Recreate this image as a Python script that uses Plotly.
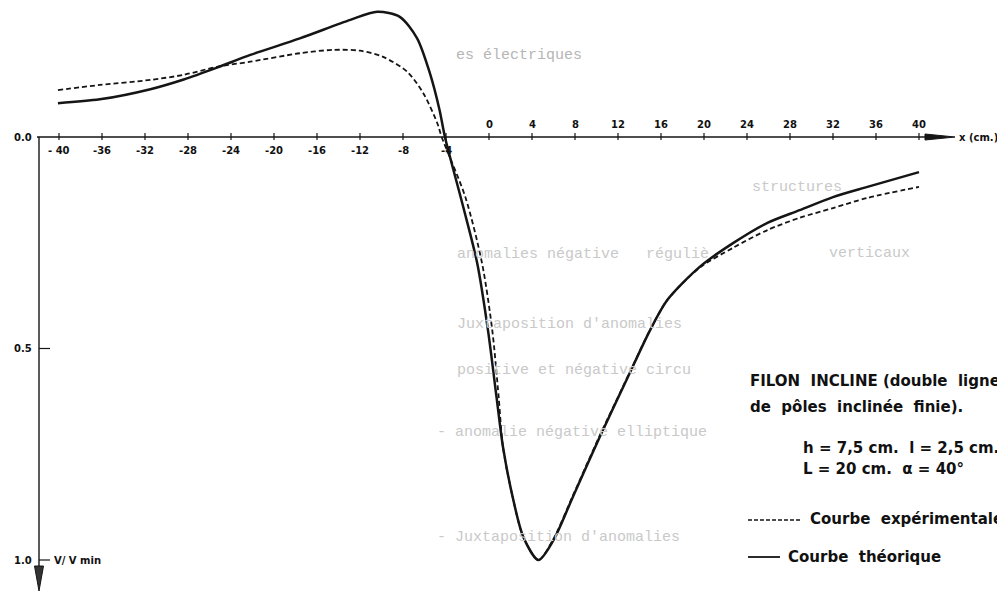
import plotly.graph_objects as go

# ---------------- data ----------------
theo_x = [-40.1, -36.2, -31.5, -28.4, -25.3, -22.2, -17.6, -12.9, -10.4, -8.3, -6.7, -5.5, -4.6, -4.1,
          -2.4, -1.1, -0.1, 0.7, 1.3, 2.2, 3.2, 4.6, 6.0, 7.8, 10.3, 12.8, 15.0, 16.6, 19.6, 22.7,
          25.9, 28.9, 32.0, 35.2, 40.0]
theo_y = [-0.080, -0.089, -0.113, -0.136, -0.164, -0.194, -0.233, -0.277, -0.296, -0.284, -0.234, -0.151,
          -0.064, 0.0, 0.165, 0.298, 0.456, 0.615, 0.733, 0.851, 0.946, 1.0, 0.953, 0.851, 0.709, 0.574,
          0.456, 0.385, 0.307, 0.251, 0.203, 0.173, 0.142, 0.118, 0.083]

exp_x = [-40.1, -36.2, -31.5, -28.4, -25.3, -22.2, -17.6, -14.5, -12.0, -9.9, -7.6, -6.1, -4.8, -4.4,
         -2.2, -0.65, 0.3, 0.9, 1.3, 2.2, 3.2, 4.6, 6.0, 7.8, 10.3, 12.8, 15.0, 16.6, 19.6, 22.7,
         25.9, 28.9, 32.0, 35.2, 40.0]
exp_y = [-0.111, -0.123, -0.135, -0.147, -0.166, -0.178, -0.198, -0.206, -0.204, -0.190, -0.154, -0.103,
         -0.032, 0.0, 0.142, 0.298, 0.456, 0.615, 0.733, 0.851, 0.946, 1.0, 0.950, 0.848, 0.706, 0.572,
         0.455, 0.385, 0.309, 0.262, 0.220, 0.191, 0.168, 0.144, 0.118]

x_ticks = [-40, -36, -32, -28, -24, -20, -16, -12, -8, -4, 0, 4, 8, 12, 16, 20, 24, 28, 32, 36, 40]
x_tick_labels = ["- 40", "-36", "-32", "-28", "-24", "-20", "-16", "-12", "-8", "-4",
                 "0", "4", "8", "12", "16", "20", "24", "28", "32", "36", "40"]
y_ticks = [0.0, 0.5, 1.0]
y_tick_labels = ["0.0", "0.5", "1.0"]

# ---------------- geometry ----------------
PAGE_W, PAGE_H = 1005, 591
OFF = 8                      # page body margin of the html page
W, H = PAGE_W - OFF, PAGE_H - OFF
X0PX, XS = 489.0 - OFF, 10.75     # figure pixel of x=0, pixels per cm
Y0PX, YS = 137.0 - OFF, 423.0     # figure pixel of V=0, pixels per unit
def px2x(p): return (p - OFF - X0PX) / XS        # p given in page pixels
def px2y(p): return (p - OFF - Y0PX) / YS
def dx(p): return p / XS
def dy(p): return p / YS

YAX = px2x(39)              # position of the vertical axis (in cm)
FONT_AX = dict(family="DejaVu Sans", size=10, color="#111")
FONT_LG = dict(family="DejaVu Sans", size=15, color="#111")
INK = "#151515"

fig = go.Figure()
fig.add_trace(go.Scatter(x=exp_x, y=exp_y, mode="lines", name="Courbe expérimentale",
                         line=dict(color=INK, width=1.8, dash="5px,3px", shape="spline", smoothing=0.8),
                         showlegend=False))
fig.add_trace(go.Scatter(x=theo_x, y=theo_y, mode="lines", name="Courbe théorique",
                         line=dict(color=INK, width=2.5, shape="spline", smoothing=0.8),
                         showlegend=False))

shapes = []
# horizontal axis
shapes.append(dict(type="line", xref="x", yref="y", x0=px2x(37), x1=px2x(945), y0=0, y1=0,
                   line=dict(color=INK, width=1.3)))
tip = px2x(955)
shapes.append(dict(type="path", xref="x", yref="y",
                   path=f"M {px2x(925)},{-dy(3)} L {tip},0 L {px2x(925)},{dy(3)} Z",
                   fillcolor=INK, line=dict(color=INK, width=1)))
# vertical axis
shapes.append(dict(type="line", xref="x", yref="y", x0=YAX, x1=YAX, y0=0, y1=px2y(575),
                   line=dict(color=INK, width=1.4)))
shapes.append(dict(type="path", xref="x", yref="y",
                   path=f"M {YAX-dx(4.5)},{px2y(566)} L {YAX+dx(4.5)},{px2y(566)} L {YAX},{px2y(591)} Z",
                   fillcolor="#333", line=dict(color=INK, width=1)))
# ticks on the x axis
for t in x_ticks:
    shapes.append(dict(type="line", xref="x", yref="y", x0=t, x1=t, y0=-dy(4), y1=dy(3),
                       line=dict(color=INK, width=1.2)))
# ticks on the y axis
for v in y_ticks[1:]:
    shapes.append(dict(type="line", xref="x", yref="y", x0=YAX, x1=YAX + dx(11), y0=v, y1=v,
                       line=dict(color=INK, width=1.2)))

ann = []
for t, lab in zip(x_ticks, x_tick_labels):
    if t < 0:
        ann.append(dict(x=t, y=0, xref="x", yref="y", text=f"<b>{lab}</b>", showarrow=False,
                        yanchor="top", yshift=-6, font=FONT_AX))
    else:
        ann.append(dict(x=t, y=0, xref="x", yref="y", text=f"<b>{lab}</b>", showarrow=False,
                        yanchor="bottom", yshift=5, font=FONT_AX))
for v, lab in zip(y_ticks, y_tick_labels):
    ann.append(dict(x=YAX, y=v, xref="x", yref="y", text=f"<b>{lab}</b>", showarrow=False,
                    xanchor="right", xshift=-5, yanchor="middle", font=FONT_AX))
ann.append(dict(x=YAX, y=1.0, xref="x", yref="y", text="<b>V/ V min</b>", showarrow=False,
                xanchor="left", xshift=13, yanchor="middle", font=FONT_AX))
ann.append(dict(x=tip, y=0, xref="x", yref="y", text="<b>x (cm.)</b>", showarrow=False,
                xanchor="left", xshift=2, yanchor="middle", font=FONT_AX))

def ptxt(text, xpx, ypx, font, color=None):
    """xpx, ypx in page pixels"""
    f = dict(font)
    if color:
        f["color"] = color
    ann.append(dict(x=(xpx - OFF) / W, y=1 - (ypx - OFF) / H, xref="paper", yref="paper", text=text,
                    showarrow=False, xanchor="left", yanchor="middle", font=f))

def pline(x0, x1, ypx, **line):
    shapes.append(dict(type="line", xref="paper", yref="paper", x0=(x0 - OFF) / W, x1=(x1 - OFF) / W,
                       y0=1 - (ypx - OFF) / H, y1=1 - (ypx - OFF) / H, line=line))

# legend block
ptxt("<b>FILON  INCLINE (double  ligne</b>", 748, 381, FONT_LG)
ptxt("<b>de  pôles  inclinée  finie).</b>", 748, 407, FONT_LG)
ptxt("<b>h = 7,5 cm.  l = 2,5 cm.</b>", 801, 448, FONT_LG)
ptxt("<b>L = 20 cm.  α = 40°</b>", 801, 469, FONT_LG)
ptxt("<b>Courbe  expérimentale</b>", 808, 519, FONT_LG)
ptxt("<b>Courbe  théorique</b>", 786, 557, FONT_LG)
pline(748, 800, 520, color=INK, width=1.5, dash="4px,2px")
pline(748, 780, 557, color=INK, width=1.8)

# faint show-through text of the scanned page
GHOST = dict(family="Liberation Mono", size=15, color="#c9c9c9")
ptxt("es électriques", 454, 56, GHOST, "#b5b5b5")
ptxt("structures", 750, 187, GHOST)
ptxt("anomalies négative   réguliè", 455, 255, GHOST)
ptxt("verticaux", 827, 253, GHOST)
ptxt("Juxtaposition d'anomalies", 455, 324, GHOST)
ptxt("positive et négative circu", 455, 370, GHOST)
ptxt("- anomalie négative elliptique", 435, 432, GHOST)
ptxt("- Juxtaposition d'anomalies", 435, 537, GHOST)

fig.update_layout(
    width=W, height=H,
    margin=dict(l=0, r=0, t=0, b=0),
    paper_bgcolor="white", plot_bgcolor="white",
    xaxis=dict(range=[px2x(OFF), px2x(OFF + W)], visible=False, fixedrange=True),
    yaxis=dict(range=[px2y(OFF + H), px2y(OFF)], visible=False, fixedrange=True),
    shapes=shapes, annotations=ann, showlegend=False,
)
fig.write_html("out.html")
